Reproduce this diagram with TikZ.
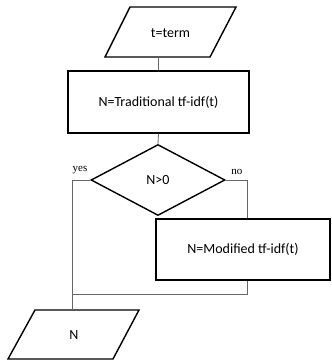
\documentclass[tikz,border=0pt]{standalone}
\usepackage{fontspec}
\setmainfont{Carlito}
\newfontfamily\labelserif{Liberation Serif}
\usetikzlibrary{shapes.geometric}
\begin{document}
\begin{tikzpicture}[x=1pt,y=-1pt,
  box/.style={draw=black,line width=1.4pt,inner sep=0pt,font=\fontsize{14}{16}\selectfont},
  txt/.style={inner sep=0pt,font=\fontsize{14}{16}\selectfont},
  shape line/.style={draw=black,line width=1.4pt,line join=miter},
  link/.style={draw=black!60,line width=0.8pt},
  lbl/.style={font=\labelserif\fontsize{11}{12}\selectfont,inner sep=0pt}]
\useasboundingbox (0,0) rectangle (332,360);
% input parallelogram
\coordinate (inTL) at (130,7);
\coordinate (inTR) at (236,7);
\coordinate (inBR) at (210,57);
\coordinate (inBL) at (105,57);
\draw[shape line] (inTL) -- (inTR) -- (inBR) -- (inBL) -- cycle;
\node[txt] (in) at (170.5,33) {t=term};
\node[box,minimum width=181pt,minimum height=62pt] (trad) at (158.5,102) {N=Traditional tf-idf(t)};
\node[box,diamond,minimum width=134pt,minimum height=71pt] (dec) at (158,180) {N>0};
\node[box,minimum width=174pt,minimum height=61pt] (mod) at (243,249.5) {N=Modified tf-idf(t)};
% output parallelogram
\coordinate (outTL) at (35,310);
\coordinate (outTR) at (139,310);
\coordinate (outBR) at (113,359);
\coordinate (outBL) at (8,359);
\draw[shape line] (outTL) -- (outTR) -- (outBR) -- (outBL) -- cycle;
\node[txt] (out) at (74,335) {N};
\coordinate (yesc) at (72,180);
\coordinate (noc) at (247,180);
\coordinate (merge) at (247,294);
\node[lbl] (yes) at (80,170) {yes};
\node[lbl] (no) at (237,172) {no};
\draw[link] (inBL -| trad.north) -- (trad.north);
\draw[link] (trad.south) -- (dec.north);
\draw[link] (dec.west) -- (yesc) -- (yesc |- outTL);
\draw[link] (dec.east) -- (noc) -- (noc |- mod.north);
\draw[link] (mod.south -| merge) -- (merge) -- (merge -| yesc);
\end{tikzpicture}
\end{document}
